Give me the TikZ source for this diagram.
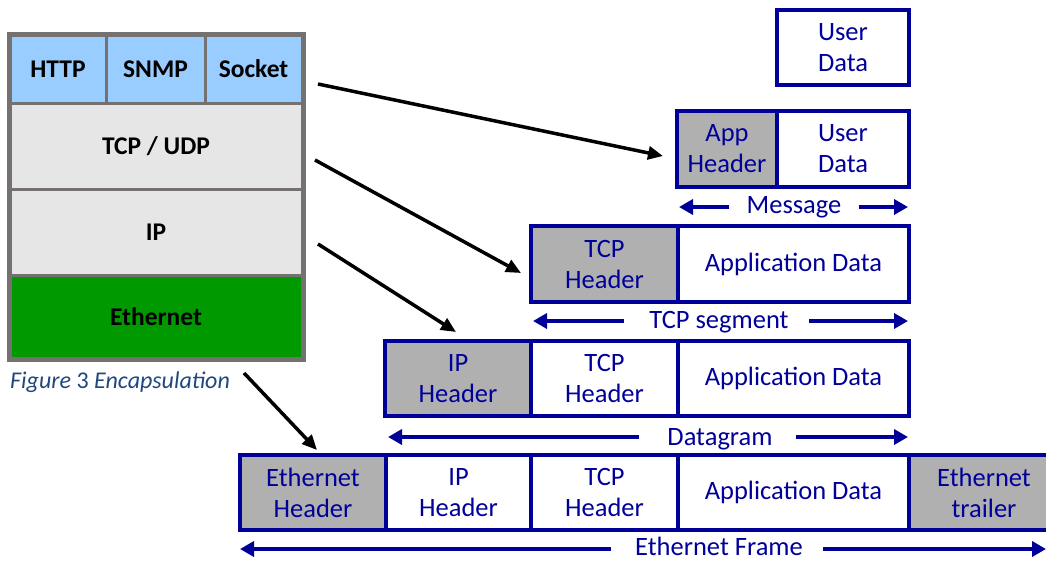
\documentclass[tikz,border=0pt]{standalone}
\usepackage{fontspec}
\setmainfont{Carlito}
\usetikzlibrary{arrows.meta}
\definecolor{navy}{RGB}{0,0,153}
\definecolor{stackgray}{RGB}{118,113,113}
\definecolor{lblue}{RGB}{153,204,255}
\definecolor{lgray}{RGB}{230,230,230}
\definecolor{egreen}{RGB}{0,153,0}
\definecolor{hdrgray}{RGB}{176,176,176}
\definecolor{capblue}{RGB}{31,73,125}
\begin{document}
\begin{tikzpicture}[x=1pt,y=-1pt,
  layer/.style={draw=stackgray, line width=3pt, inner sep=0pt, text=black,
    font=\bfseries\fontsize{25.5}{30}\selectfont},
  pkt/.style={draw=navy, line width=4pt, inner sep=0pt, text=navy, align=center,
    font=\fontsize{26.5}{31}\selectfont},
  hdr/.style={pkt, fill=hdrgray},
  spantext/.style={text=navy, inner sep=0pt, anchor=base, font=\fontsize{26.5}{30}\selectfont},
  spanarrow/.style={draw=navy, line width=4pt, -{Triangle[length=14pt,width=15pt]}},
  feed/.style={draw=black, line width=3.5pt, -{Triangle[length=15pt,width=13pt]}}]
\useasboundingbox (0,0) rectangle (1046,560);
\clip (0,0) rectangle (1046,560);

% ---- protocol stack ----
\node[layer, fill=lblue, minimum width=96pt, minimum height=68pt] (http) at (58,69) {HTTP};
\node[layer, fill=lblue, minimum width=99pt, minimum height=68pt] (snmp) at (155.5,69) {SNMP};
\node[layer, fill=lblue, minimum width=97pt, minimum height=68pt] (socket) at (253.5,69) {Socket};
\node[layer, fill=lgray, minimum width=292pt, minimum height=86pt] (tcpudp) at (156,146) {TCP / UDP};
\node[layer, fill=lgray, minimum width=292pt, minimum height=86pt] (ip) at (156,232) {IP};
\node[layer, fill=egreen, minimum width=292pt, minimum height=83pt] (eth) at (156,316.5) {Ethernet};
\draw[stackgray, line width=4pt] (http.north west) rectangle (eth.south east);

\node[text=capblue, anchor=base west, inner sep=0pt, font=\fontsize{24}{28}\selectfont] (cap) at (10,388)
  {\textit{Figure} 3 \textit{Encapsulation}};

% ---- user data ----
\node[pkt, minimum width=132pt, minimum height=75pt] (ud) at (843,47.5) {User\\Data};

% ---- application message ----
\node[hdr, minimum width=100pt, minimum height=76pt] (apph) at (727,149) {App\\Header};
\node[pkt, minimum width=132pt, minimum height=76pt] (appd) at (843,149) {User\\Data};
\node[spantext] (msg) at (794,213) {Message};
\coordinate (msgL) at (679,207);
\coordinate (msgR) at (908,207);
\draw[spanarrow] ([xshift=-17pt]msg.west |- msgL) -- (msgL);
\draw[spanarrow] ([xshift=17pt]msg.east |- msgR) -- (msgR);

% ---- TCP segment ----
\node[hdr, minimum width=147pt, minimum height=76pt] (tcph) at (604.5,264) {TCP\\Header};
\node[pkt, minimum width=231pt, minimum height=76pt] (tcpd) at (793.5,264) {Application Data};
\node[spantext] (seg) at (719,328) {TCP segment};
\coordinate (segL) at (533,321);
\coordinate (segR) at (908,321);
\draw[spanarrow] ([xshift=-25pt]seg.west |- segL) -- (segL);
\draw[spanarrow] ([xshift=20pt]seg.east |- segR) -- (segR);

% ---- IP datagram ----
\node[hdr, minimum width=146pt, minimum height=75pt] (iph) at (458,378.5) {IP\\Header};
\node[pkt, minimum width=147pt, minimum height=75pt] (iptcp) at (604.5,378.5) {TCP\\Header};
\node[pkt, minimum width=231pt, minimum height=75pt] (ipd) at (793.5,378.5) {Application Data};
\node[spantext] (dg) at (720,445) {Datagram};
\coordinate (dgL) at (388,437);
\coordinate (dgR) at (908,437);
\draw[spanarrow] ([xshift=-28pt]dg.west |- dgL) -- (dgL);
\draw[spanarrow] ([xshift=23pt]dg.east |- dgR) -- (dgR);

% ---- Ethernet frame ----
\node[hdr, minimum width=146pt, minimum height=75pt] (ethh) at (313,492.5) {Ethernet\\Header};
\node[pkt, minimum width=145pt, minimum height=75pt] (eip) at (458.5,492.5) {IP\\Header};
\node[pkt, minimum width=147pt, minimum height=75pt] (etcp) at (604.5,492.5) {TCP\\Header};
\node[pkt, minimum width=231pt, minimum height=75pt] (ed) at (793.5,492.5) {Application Data};
\node[hdr, minimum width=150pt, minimum height=75pt] (etr) at (984,492.5) {Ethernet\\trailer};
\node[spantext] (fr) at (719,555) {Ethernet Frame};
\coordinate (frL) at (240,549);
\coordinate (frR) at (1046,549);
\draw[spanarrow] ([xshift=-24pt]fr.west |- frL) -- (frL);
\draw[spanarrow] ([xshift=20pt]fr.east |- frR) -- (frR);

% ---- encapsulation arrows ----
\coordinate (f1s) at (318,84);   \coordinate (f1e) at (663,156);
\coordinate (f2s) at (315,160);  \coordinate (f2e) at (521,273);
\coordinate (f3s) at (318,244);  \coordinate (f3e) at (456,332);
\coordinate (f4s) at (244,373);  \coordinate (f4e) at (317,450);
\draw[feed] (f1s) -- (f1e);
\draw[feed] (f2s) -- (f2e);
\draw[feed] (f3s) -- (f3e);
\draw[feed] (f4s) -- (f4e);
\end{tikzpicture}
\end{document}
